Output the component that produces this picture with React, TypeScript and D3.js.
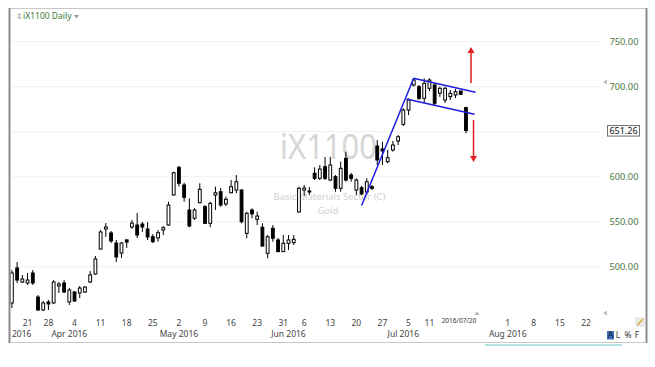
import React from "react";
import * as d3 from "d3";

// ---- data ----
const openV = [
  459.7, 498.6, 483.0, 481.9, 493.0, 466.3, 451.9, 460.8, 459.7, 478.6,
  481.9, 460.8, 471.9, 470.8, 471.9, 483.0, 491.9, 519.7, 541.9, 537.5,
  526.3, 515.2, 529.7, 544.1, 546.3, 547.4, 541.9, 533.3, 531.9, 540.8,
  546.3, 579.7, 610.4, 590.8, 563.0, 553.8, 571.1, 566.7, 548.2, 579.7,
  583.3, 569.7, 582.2, 585.2, 585.2, 537.1, 563.0, 552.7, 543.8, 514.9,
  542.7, 529.7, 516.7, 526.0, 526.7, 560.8, 585.2, 584.1, 603.8, 598.2,
  611.1, 596.3, 600.0, 587.1, 620.4, 601.9, 585.2, 587.8, 583.0, 588.9,
  634.1, 630.8, 616.7, 629.7, 639.7, 658.2, 674.1, 701.9, 700.0, 687.1,
  698.2, 701.9, 692.7, 685.2, 688.9, 690.8, 695.2, 676.7,
];
const highV = [
  496.3, 505.2, 490.8, 493.0, 496.3, 468.5, 461.9, 463.0, 485.2, 483.0,
  485.2, 476.3, 473.0, 478.6, 478.6, 495.2, 511.9, 540.8, 548.5, 539.7,
  529.7, 527.4, 530.8, 551.9, 559.7, 549.7, 549.7, 536.3, 540.8, 545.2,
  572.2, 605.6, 611.9, 593.3, 576.0, 565.2, 592.7, 568.5, 572.2, 589.0,
  587.4, 577.8, 596.3, 601.9, 586.0, 561.1, 564.9, 561.1, 548.2, 535.2,
  546.3, 531.9, 535.2, 535.2, 535.2, 588.9, 590.8, 588.5, 610.4, 613.0,
  621.9, 622.2, 601.9, 616.7, 627.8, 604.1, 598.2, 589.7, 598.2, 590.8,
  640.8, 638.9, 629.7, 639.7, 646.3, 676.0, 687.1, 709.3, 701.9, 709.3,
  709.3, 704.1, 700.0, 700.0, 696.3, 697.4, 695.6, 677.8,
];
const lowV = [
  454.1, 481.9, 481.9, 479.7, 479.7, 450.8, 450.8, 451.9, 458.6, 470.8,
  470.8, 457.4, 460.8, 465.2, 470.8, 481.9, 491.0, 519.0, 533.0, 526.3,
  505.2, 509.7, 520.8, 541.9, 531.9, 538.6, 529.7, 526.3, 527.8, 535.2,
  545.5, 579.0, 589.0, 572.2, 543.8, 551.9, 570.5, 547.4, 543.8, 563.0,
  566.7, 567.4, 581.6, 581.6, 548.2, 531.6, 553.8, 546.3, 522.2, 509.3,
  527.8, 516.3, 516.3, 518.6, 524.1, 560.0, 578.6, 579.7, 596.3, 596.3,
  596.3, 595.2, 583.3, 583.3, 594.4, 594.4, 579.7, 579.7, 579.7, 585.2,
  613.0, 613.0, 614.9, 627.8, 635.2, 656.3, 668.5, 700.0, 685.2, 681.9,
  695.2, 678.6, 688.5, 681.9, 685.2, 687.4, 691.1, 648.2,
];
const closeV = [
  493.0, 485.2, 486.3, 485.2, 481.9, 451.9, 459.7, 458.6, 483.0, 480.8,
  471.9, 474.1, 461.9, 476.3, 477.4, 490.8, 508.6, 538.6, 544.1, 528.6,
  510.8, 526.3, 527.4, 548.5, 535.2, 544.1, 533.0, 527.8, 537.8, 543.3,
  568.5, 604.4, 592.7, 577.1, 545.2, 563.0, 586.0, 548.2, 570.4, 582.2,
  568.5, 574.9, 588.9, 594.4, 550.0, 559.3, 558.6, 556.3, 523.0, 533.3,
  531.6, 516.7, 526.0, 529.7, 530.4, 587.1, 587.4, 583.0, 598.2, 608.5,
  598.2, 613.0, 587.1, 609.3, 596.3, 598.2, 596.3, 580.8, 594.4, 587.1,
  618.6, 628.6, 621.1, 635.2, 644.4, 674.1, 685.2, 707.4, 687.1, 703.8,
  707.4, 681.6, 698.2, 698.2, 692.7, 694.4, 691.5, 651.26,
];

const HOLIDAYS = ["2016-03-25", "2016-05-30", "2016-07-04"];
const yTicks = [500, 550, 600, 650, 700, 750];
const dayTickDates = [
  "2016-03-21", "2016-03-28", "2016-04-04", "2016-04-11", "2016-04-18", "2016-04-25",
  "2016-05-02", "2016-05-09", "2016-05-16", "2016-05-23", "2016-05-31", "2016-06-06",
  "2016-06-13", "2016-06-20", "2016-06-27", "2016-07-05", "2016-07-11",
  "2016-08-01", "2016-08-08", "2016-08-15", "2016-08-22",
];
const monthLabelDates = ["2016-04-01", "2016-05-02", "2016-06-01", "2016-07-01", "2016-08-01"];
const lastDate = "2016-07-20";
const lastPrice = 651.26;

// trend lines: [index, price] pairs
const riseLine = [[67, 568.0], [77, 709.7]];
const upperLine = [[76.95, 709.3], [88.83, 693.8]];
const lowerLine = [[75.6, 686.3], [88.64, 669.3]];
const upArrow = [[87.97, 704.1], [87.97, 744.1]];
const downArrow = [[88.45, 663.0], [88.45, 616.3]];

// ---- calendar ----
const fmt = d3.utcFormat("%Y-%m-%d");
const tradingDays: string[] = d3.utcDay
  .range(new Date(Date.UTC(2016, 2, 16)), new Date(Date.UTC(2016, 8, 1)))
  .filter((d) => d.getUTCDay() !== 0 && d.getUTCDay() !== 6)
  .map(fmt)
  .filter((s) => !HOLIDAYS.includes(s));
const idxOf = (s: string) => tradingDays.indexOf(s);

const x = d3.scaleLinear().domain([0, 110]).range([11.9, 586]);
const y = d3.scaleLinear().domain([500, 750]).range([266.7, 41.7]);

const FONT = "'Noto Sans', 'Open Sans', sans-serif";

export default function App() {
  const candles = openV.map((o, i) => ({
    i, o, h: highV[i], l: lowV[i], c: closeV[i],
  }));
  const bw = 2.8;
  const lineGen = d3.line<number[]>().x((d) => x(d[0])).y((d) => y(d[1]));

  const monthFmt = d3.utcFormat("%b %Y");
  const parse = d3.utcParse("%Y-%m-%d");

  return (
    <svg width={655} height={367} style={{ position: "absolute", left: 0, top: 0, background: "#fff" }}
      fontFamily={FONT}>
      <defs>
        <clipPath id="plot">
          <rect x={10.5} y={9} width={635} height={332} />
        </clipPath>
      </defs>
      <rect x={0} y={0} width={655} height={367} fill="#fff" />

      {/* gridlines */}
      {yTicks.map((t) => (
        <line key={"g" + t} x1={12} x2={600} y1={y(t)} y2={y(t)} stroke="#f1f1f1" strokeWidth={1} />
      ))}

      {/* watermark */}
      <text x={280} y={159} fontSize={35} fill="#d6d6d6" textLength={97} lengthAdjust="spacingAndGlyphs">iX1100</text>
      <text x={329.5} y={200} fontSize={9.5} fill="#cfcfcf" textAnchor="middle">Basic Materials Sector (C)</text>
      <text x={328} y={213.5} fontSize={9.5} fill="#cfcfcf" textAnchor="middle">Gold</text>

      {/* candles */}
      <g clipPath="url(#plot)">
        {candles.map((d) => {
          const cx = x(d.i);
          const up = d.c >= d.o;
          const top = y(Math.max(d.o, d.c));
          const bot = y(Math.min(d.o, d.c));
          return (
            <g key={d.i}>
              <line x1={cx} x2={cx} y1={y(d.h)} y2={y(d.l)} stroke="#000" strokeWidth={1} />
              <rect x={cx - bw / 2} y={top} width={bw} height={Math.max(1, bot - top)}
                fill={up ? "#fff" : "#000"} stroke="#000" strokeWidth={1} />
            </g>
          );
        })}
      </g>

      {/* trend lines */}
      <path d={lineGen(riseLine as any) || ""} stroke="#1c1ce0" strokeWidth={1.5} fill="none" />
      <path d={lineGen(upperLine as any) || ""} stroke="#1c1ce0" strokeWidth={1.5} fill="none" />
      <path d={lineGen(lowerLine as any) || ""} stroke="#1c1ce0" strokeWidth={1.5} fill="none" />

      {/* arrows */}
      {[upArrow, downArrow].map((a, k) => {
        const x1 = x(a[0][0]), y1 = y(a[0][1]), y2 = y(a[1][1]);
        const dir = y2 < y1 ? -1 : 1;
        return (
          <g key={"a" + k}>
            <line x1={x1} x2={x1} y1={y1} y2={y2 - dir * 5} stroke="#e41e1e" strokeWidth={1.5} />
            <path d={`M${x1 - 3.5},${y2 - dir * 6}L${x1 + 3.5},${y2 - dir * 6}L${x1},${y2}Z`} fill="#e41e1e" />
          </g>
        );
      })}

      {/* y-axis labels */}
      {yTicks.map((t) => (
        <text key={"yl" + t} x={638.5} y={y(t) + 3.4} fontSize={9.3} fill="#4b7a43" textAnchor="end">
          {t.toFixed(2)}
        </text>
      ))}
      <rect x={607.5} y={y(lastPrice) - 5} width={32} height={10.5} fill="#fff" stroke="#6f6f6f" strokeWidth={1} />
      <text x={623.5} y={y(lastPrice) + 3.3} fontSize={9} fill="#111" textAnchor="middle">{lastPrice.toFixed(2)}</text>

      {/* x-axis labels */}
      {dayTickDates.map((s) => (
        <text key={"d" + s} x={x(idxOf(s))} y={325.5} fontSize={8.5} fill="#444" textAnchor="middle">
          {String(parse(s)!.getUTCDate())}
        </text>
      ))}
      <text x={12} y={337} fontSize={8.5} fill="#444">2016</text>
      {monthLabelDates.map((s) => (
        <text key={"m" + s} x={x(idxOf(s))} y={337} fontSize={8.5} fill="#444" textAnchor="middle">
          {monthFmt(parse(s)!)}
        </text>
      ))}
      <text x={x(idxOf(lastDate)) - 7} y={322.5} fontSize={6.5} fill="#333" textAnchor="middle">
        {lastDate.replace(/-/g, "/")}
      </text>

      {/* small markers */}
      <path d="M603,82 L607,79.5 L607,84.5Z" fill="#bbb" />
      <path d="M603,313 L607,310.5 L607,315.5Z" fill="#bbb" />
      <path d="M477,311 L474.5,315 L479.5,315Z" fill="#bbb" />

      {/* frame */}
      <line x1={10} x2={646} y1={8.5} y2={8.5} stroke="#c8c8c8" strokeWidth={1} />
      <line x1={9.5} x2={9.5} y1={8} y2={343} stroke="#8c8c8c" strokeWidth={2} />
      <line x1={646.5} x2={646.5} y1={8} y2={343} stroke="#8c8c8c" strokeWidth={2} />
      <line x1={10} x2={646} y1={342.5} y2={342.5} stroke="#c8c8c8" strokeWidth={1} />
      <line x1={485} x2={622} y1={345} y2={345} stroke="#b4e2e2" strokeWidth={2} />

      {/* title */}
      <text x={15.5} y={19} fontSize={8} fill="#999">⇕</text>
      <text x={23} y={19} fontSize={8.5} fill="#3c7a3c">iX1100 Daily</text>
      <path d="M74,15 L79,15 L76.5,18.5Z" fill="#999" />

      {/* bottom-right controls */}
      <rect x={607} y={331} width={7} height={8.5} fill="#3f6fb5" />
      <text x={610.5} y={338.3} fontSize={8.5} fill="#0b1d44" textAnchor="middle">A</text>
      <text x={618} y={338.3} fontSize={8.5} fill="#333" textAnchor="middle">L</text>
      <text x={628} y={338.3} fontSize={8.5} fill="#333" textAnchor="middle">%</text>
      <text x={637} y={338.3} fontSize={8.5} fill="#333" textAnchor="middle">F</text>
      <rect x={636} y={318} width={8} height={8} fill="#f4efe6" stroke="#ccc" strokeWidth={0.6} />
      <line x1={637.5} y1={325} x2={643} y2={319} stroke="#d9a441" strokeWidth={1.6} />
    </svg>
  );
}
